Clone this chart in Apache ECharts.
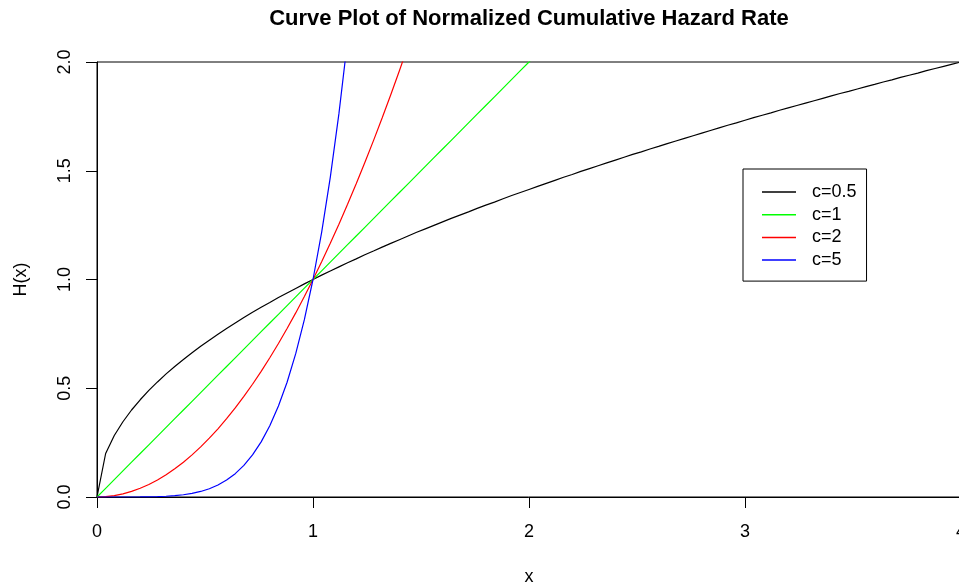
<!DOCTYPE html>
<html>
<head>
<meta charset="utf-8">
<script src="https://cdn.jsdelivr.net/npm/echarts@6/dist/echarts.min.js"></script>
<style>html,body{margin:0;padding:0;background:#fff;}#chart{width:959px;height:586px;}</style>
</head>
<body>
<div id="chart"></div>
<script>
const xValues = [0, 0.04, 0.08, 0.12, 0.16, 0.2, 0.24, 0.28, 0.32, 0.36, 0.4, 0.44, 0.48, 0.52, 0.56, 0.6, 0.64, 0.68, 0.72, 0.76, 0.8, 0.84, 0.88, 0.92, 0.96, 1, 1.04, 1.08, 1.12, 1.16, 1.2, 1.24, 1.28, 1.32, 1.36, 1.4, 1.44, 1.48, 1.52, 1.56, 1.6, 1.64, 1.68, 1.72, 1.76, 1.8, 1.84, 1.88, 1.92, 1.96, 2, 2.04, 2.08, 2.12, 2.16, 2.2, 2.24, 2.28, 2.32, 2.36, 2.4, 2.44, 2.48, 2.52, 2.56, 2.6, 2.64, 2.68, 2.72, 2.76, 2.8, 2.84, 2.88, 2.92, 2.96, 3, 3.04, 3.08, 3.12, 3.16, 3.2, 3.24, 3.28, 3.32, 3.36, 3.4, 3.44, 3.48, 3.52, 3.56, 3.6, 3.64, 3.68, 3.72, 3.76, 3.8, 3.84, 3.88, 3.92, 3.96, 4];

const hC05 = [0, 0.2, 0.283, 0.346, 0.4, 0.447, 0.49, 0.529, 0.566, 0.6, 0.632, 0.663, 0.693, 0.721, 0.748, 0.775, 0.8, 0.825, 0.849, 0.872, 0.894, 0.917, 0.938, 0.959, 0.98, 1, 1.02, 1.039, 1.058, 1.077, 1.095, 1.114, 1.131, 1.149, 1.166, 1.183, 1.2, 1.217, 1.233, 1.249, 1.265, 1.281, 1.296, 1.311, 1.327, 1.342, 1.356, 1.371, 1.386, 1.4, 1.414, 1.428, 1.442, 1.456, 1.47, 1.483, 1.497, 1.51, 1.523, 1.536, 1.549, 1.562, 1.575, 1.587, 1.6, 1.612, 1.625, 1.637, 1.649, 1.661, 1.673, 1.685, 1.697, 1.709, 1.72, 1.732, 1.744, 1.755, 1.766, 1.778, 1.789, 1.8, 1.811, 1.822, 1.833, 1.844, 1.855, 1.865, 1.876, 1.887, 1.897, 1.908, 1.918, 1.929, 1.939, 1.949, 1.96, 1.97, 1.98, 1.99, 2];

const hC1 = [0, 0.04, 0.08, 0.12, 0.16, 0.2, 0.24, 0.28, 0.32, 0.36, 0.4, 0.44, 0.48, 0.52, 0.56, 0.6, 0.64, 0.68, 0.72, 0.76, 0.8, 0.84, 0.88, 0.92, 0.96, 1, 1.04, 1.08, 1.12, 1.16, 1.2, 1.24, 1.28, 1.32, 1.36, 1.4, 1.44, 1.48, 1.52, 1.56, 1.6, 1.64, 1.68, 1.72, 1.76, 1.8, 1.84, 1.88, 1.92, 1.96, 2, 2.04];

const hC2 = [0, 0.0016, 0.0064, 0.0144, 0.0256, 0.04, 0.0576, 0.0784, 0.1024, 0.1296, 0.16, 0.1936, 0.2304, 0.2704, 0.3136, 0.36, 0.4096, 0.4624, 0.5184, 0.5776, 0.64, 0.7056, 0.7744, 0.8464, 0.9216, 1, 1.0816, 1.1664, 1.2544, 1.3456, 1.44, 1.5376, 1.6384, 1.7424, 1.8496, 1.96, 2.0736];

const hC5 = [0, 0, 0.000003, 0.000025, 0.000105, 0.00032, 0.000796, 0.00172, 0.00336, 0.00605, 0.01024, 0.01649, 0.02548, 0.03802, 0.05507, 0.07776, 0.10737, 0.14539, 0.19349, 0.25355, 0.32768, 0.41821, 0.52773, 0.65908, 0.81537, 1, 1.21665, 1.46933, 1.76234, 2.10034];

const seriesNames = ['c=0.5', 'c=1', 'c=2', 'c=5'];
const seriesColors = ['#000000', '#00ff00', '#ff0000', '#0000ff'];
const seriesValues = [hC05, hC1, hC2, hC5];
const xTicks = [0, 1, 2, 3, 4];
const yTicks = [0, 0.5, 1, 1.5, 2];

const FONT = 'Liberation Sans, Arial, Helvetica, sans-serif';
const chart = echarts.init(document.getElementById('chart'), null, {renderer: 'canvas'});

const option = {
  animation: false,
  backgroundColor: '#ffffff',
  title: {
    text: 'Curve Plot of Normalized Cumulative Hazard Rate',
    left: 529,
    top: 8,
    padding: 0,
    textAlign: 'center',
    textStyle: {fontFamily: FONT, fontSize: 22, fontWeight: 'bold', color: '#000'}
  },
  grid: {
    left: 97, top: 62, width: 864, height: 435,
    outerBoundsMode: 'none',
    containLabel: false,
    show: true, borderColor: '#000', borderWidth: 1, backgroundColor: 'transparent'
  },
  legend: {
    orient: 'vertical',
    left: 743,
    top: 169,
    padding: [14, 10, 12, 19],
    itemWidth: 34,
    itemHeight: 1.5,
    itemGap: 4.7,
    icon: 'rect',
    borderColor: '#000',
    borderWidth: 1,
    data: seriesNames,
    textStyle: {fontFamily: FONT, fontSize: 18, lineHeight: 18, color: '#000', padding: [0, 0, 0, 11]}
  },
  xAxis: {
    type: 'value',
    min: xTicks[0], max: xTicks[xTicks.length - 1], interval: 1,
    name: 'x',
    nameLocation: 'middle',
    nameGap: 71,
    nameTextStyle: {fontFamily: FONT, fontSize: 18, color: '#000', verticalAlign: 'top'},
    axisLine: {show: true, onZero: false, lineStyle: {color: '#000', width: 1}},
    axisTick: {show: true, inside: false, length: 11, lineStyle: {color: '#000', width: 1}},
    axisLabel: {fontFamily: FONT, fontSize: 18, color: '#000', margin: 26, showMaxLabel: true, hideOverlap: false},
    splitLine: {show: false}
  },
  yAxis: {
    type: 'value',
    min: yTicks[0], max: yTicks[yTicks.length - 1], interval: 0.5,
    name: 'H(x)',
    nameLocation: 'middle',
    nameRotate: 90,
    nameGap: 67,
    nameTextStyle: {fontFamily: FONT, fontSize: 18, color: '#000'},
    axisLine: {show: true, onZero: false, lineStyle: {color: '#000', width: 1}},
    axisTick: {show: true, inside: false, length: 11, lineStyle: {color: '#000', width: 1}},
    axisLabel: {fontFamily: FONT, fontSize: 18, color: '#000', margin: 23, rotate: 90,
      formatter: v => Number(v).toFixed(1)},
    splitLine: {show: false}
  },
  series: seriesNames.map((name, k) => ({
    name: name,
    type: 'line',
    symbol: 'none',
    clip: true,
    smooth: false,
    color: seriesColors[k],
    lineStyle: {color: seriesColors[k], width: 1.2},
    data: seriesValues[k].map((v, i) => [xValues[i], v])
  }))
};
chart.setOption(option);
</script>
</body>
</html>
